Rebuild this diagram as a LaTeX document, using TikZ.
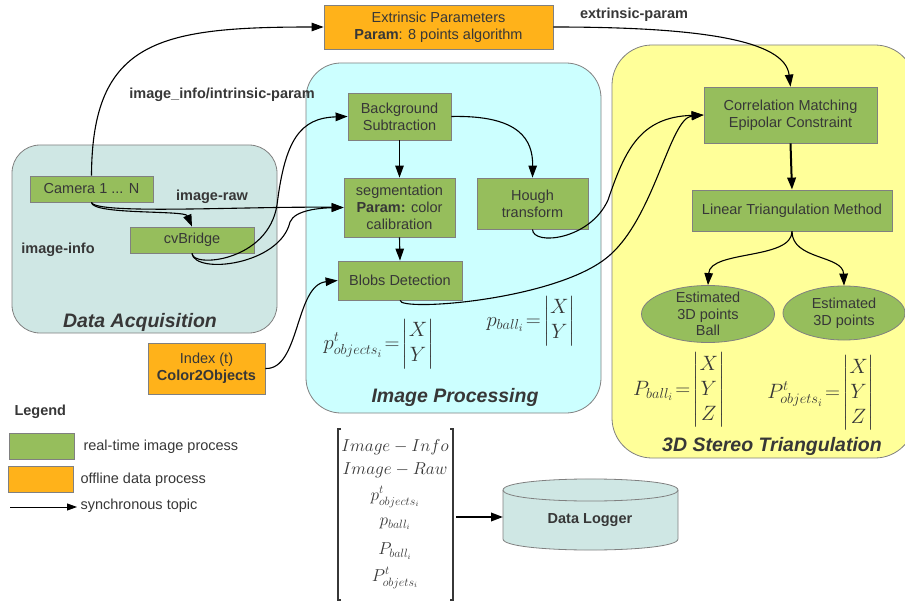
\documentclass[tikz,border=0pt]{standalone}
\usepackage{fontspec}
\setmainfont{Liberation Sans}
\usepackage{amsmath}
\usetikzlibrary{arrows.meta,shapes.geometric}
\definecolor{boxgreen}{RGB}{150,190,92}
\definecolor{boxorange}{RGB}{255,178,26}
\definecolor{txtgray}{RGB}{55,55,55}
\definecolor{bordergray}{RGB}{128,128,128}
\definecolor{acqfill}{RGB}{207,231,228}
\definecolor{procfill}{RGB}{204,255,255}
\definecolor{trifill}{RGB}{255,255,153}
\begin{document}
\begin{tikzpicture}[x=1pt,y=-1pt,
  grp/.style={draw=bordergray, line width=0.8pt, rounded corners=#1, inner sep=0pt},
  gbox/.style={draw=bordergray, line width=0.8pt, fill=boxgreen, text=txtgray, align=center, inner sep=0pt, font=\fontsize{14.5}{17}\selectfont},
  obox/.style={gbox, fill=boxorange},
  ell/.style={ellipse, draw=bordergray, line width=0.8pt, fill=boxgreen, inner sep=0pt},
  etext/.style={text=txtgray, align=center, font=\fontsize{14.5}{16.8}\selectfont},
  conn/.style={line width=1.1pt, -{Triangle[length=12pt,width=8.5pt]}},
  lbl/.style={text=txtgray, font=\bfseries\fontsize{14.5}{16}\selectfont},
  ltext/.style={text=txtgray, anchor=west, font=\fontsize{14.5}{16}\selectfont},
  glbl/.style={text=txtgray, font=\bfseries\itshape\fontsize{19.5}{22}\selectfont},
  mathlbl/.style={text=txtgray, font=\fontsize{21}{25}\selectfont},
  vec/.style={text=txtgray, font=\fontsize{17}{20}\selectfont}
]
\useasboundingbox (0,0) rectangle (905,604);
\clip (0,0) rectangle (905,604);

% groups
\node[grp=28pt, fill=acqfill, minimum width=265pt, minimum height=188pt] (acqgrp) at (144.5,239) {};
\node[grp=35pt, fill=procfill, minimum width=295pt, minimum height=350pt] (procgrp) at (453.5,238) {};
\node[grp=40pt, fill=trifill, minimum width=303pt, minimum height=413pt] (trigrp) at (763.5,251.5) {};

\node[glbl] (acqlbl) at (140,322) {Data Acquisition};
\node[glbl] (proclbl) at (455,397) {Image Processing};
\node[glbl] (trilbl) at (772,446) {3D Stereo Triangulation};

% boxes
\node[gbox, minimum width=123pt, minimum height=26pt] (cam) at (91.5,189) {Camera 1 ... N};
\node[gbox, minimum width=124pt, minimum height=26pt] (cvb) at (192,240) {cvBridge};
\node[obox, minimum width=229pt, minimum height=44pt] (ext) at (438.5,27) {Extrinsic Parameters\\\textbf{Param}: 8 points algorithm};
\node[gbox, minimum width=103pt, minimum height=47pt] (bg) at (399.5,116.5) {Background\\Subtraction};
\node[gbox, minimum width=111pt, minimum height=59pt] (seg) at (399.5,207.5) {segmentation\\\textbf{Param:} color\\calibration};
\node[gbox, minimum width=111pt, minimum height=51pt] (hough) at (532.5,203.5) {Hough\\transform};
\node[gbox, minimum width=124pt, minimum height=39pt] (blobs) at (400,280.5) {Blobs Detection};
\node[obox, minimum width=117pt, minimum height=51pt] (idx) at (206.5,368.5) {Index (t)\\\textbf{Color2Objects}};
\node[gbox, minimum width=173pt, minimum height=56pt] (corr) at (790.5,115) {Correlation Matching\\Epipolar Constraint};
\node[gbox, minimum width=200pt, minimum height=41pt] (lin) at (792,210.5) {Linear Triangulation Method};
\node[ell, minimum width=133pt, minimum height=57pt] (ell1) at (708,314) {};
\node[etext] (ell1t) at (ell1) {Estimated\\3D points\\Ball};
\node[ell, minimum width=122pt, minimum height=54pt] (ell2) at (844,313) {};
\node[etext] (ell2t) at (ell2) {Estimated\\3D points};

% labels
\node[lbl] (lintr) at (222,95) {image\_info/intrinsic-param};
\node[lbl] (lraw) at (212,197) {image-raw};
\node[lbl] (linfo) at (58,250) {image-info};
\node[lbl] (lext) at (634,15) {extrinsic-param};

% math
\node[mathlbl] (pobj) at (379,344) {$p^{t}_{objects_i}\!=\!\begin{vmatrix}X\\Y\end{vmatrix}$};
\node[mathlbl] (pball) at (531,321) {$p_{ball_i}\!=\!\begin{vmatrix}X\\Y\end{vmatrix}$};
\node[mathlbl] (Pball) at (679,390) {$P_{ball_i}\!=\!\begin{vmatrix}X\\Y\\Z\end{vmatrix}$};
\node[mathlbl] (Pobj) at (821,393) {$P^{t}_{objets_i}\!=\!\begin{vmatrix}X\\Y\\Z\end{vmatrix}$};

% vector
\node[vec] (v1) at (395,447) {$Image-Info$};
\node[vec] (v2) at (395,470) {$Image-Raw$};
\node[vec] (v3) at (395,497) {$p^{t}_{objects_i}$};
\node[vec] (v4) at (395,524) {$p_{ball_i}$};
\node[vec] (v5) at (395,551) {$P_{ball_i}$};
\node[vec] (v6) at (395,578) {$P^{t}_{objets_i}$};
\draw[line width=1.3pt, txtgray] (341,429) -- (338,429) -- (338,600) -- (341,600);
\draw[line width=1.3pt, txtgray] (450,429) -- (453,429) -- (453,600) -- (450,600);

% data logger
\filldraw[fill=acqfill, draw=bordergray, line width=0.8pt] (503,490) -- (503,539) .. controls (503,553.7) and (678,553.7) .. (678,539) -- (678,490) .. controls (678,475.3) and (503,475.3) .. (503,490) -- cycle;
\draw[bordergray, line width=0.8pt] (503,490) .. controls (503,504.7) and (678,504.7) .. (678,490);
\node[lbl] (logger) at (590,520) {Data Logger};
\coordinate (vecR) at (456,517);
\coordinate (logL) at (503,517);
\draw[conn, line width=2pt] (vecR) -- (logL);

% legend
\node[lbl, anchor=west] (leg) at (11,412) {Legend};
\node[gbox, minimum width=65pt, minimum height=26pt] (leggreen) at (41.5,446) {};
\node[ltext] (leggreent) at (80,446.5) {real-time image process};
\node[obox, minimum width=65pt, minimum height=26pt] (legorange) at (41,479) {};
\node[ltext] (legoranget) at (77,480) {offline data process};
\coordinate (legA) at (10,507);
\coordinate (legB) at (77,507);
\draw[line width=0.9pt, -{Triangle[length=10pt,width=7pt]}] (legA) -- (legB);
\node[ltext] (legarrowt) at (77,506) {synchronous topic};

% connectors
\draw[conn] (cam.north) .. controls (92,40) and (160,27) .. (ext.west);
\draw[conn] (cam.south) .. controls (92,215) and (185,210) .. (cvb.north);
\draw[conn] (cam.south) .. controls (95,215) and (250,206) .. (seg.west);
\draw[conn] (cvb.south) .. controls (192,268) and (268,262) .. (277,205) .. controls (285,140) and (300,118) .. (bg.west);
\draw[conn] (cvb.south) .. controls (195,275) and (280,265) .. (290,222) .. controls (295,210) and (320,208) .. (seg.west);
\draw[conn] (idx.east) .. controls (300,370) and (295,285) .. (blobs.west);
\draw[conn] (bg.south) -- (seg.north);
\draw[conn] (seg.south) -- (blobs.north);
\draw[conn] (bg.east) .. controls (520,115) and (533,140) .. (hough.north);
\draw[conn] (hough.south) .. controls (533,246) and (590,240) .. (608,200) .. controls (625,150) and (640,117) .. (corr.west);
\draw[conn] (blobs.south) .. controls (400,312) and (560,300) .. (610,255) .. controls (655,215) and (670,118) .. (corr.west);
\draw[conn] (ext.east) .. controls (700,27) and (785,40) .. (corr.north);
\draw[conn, line width=2pt] (corr.south) -- (lin.north);
\draw[conn] (lin.south) .. controls (792,260) and (710,250) .. (ell1.north);
\draw[conn] (lin.south) .. controls (792,260) and (843,255) .. (ell2.north);
\end{tikzpicture}
\end{document}
